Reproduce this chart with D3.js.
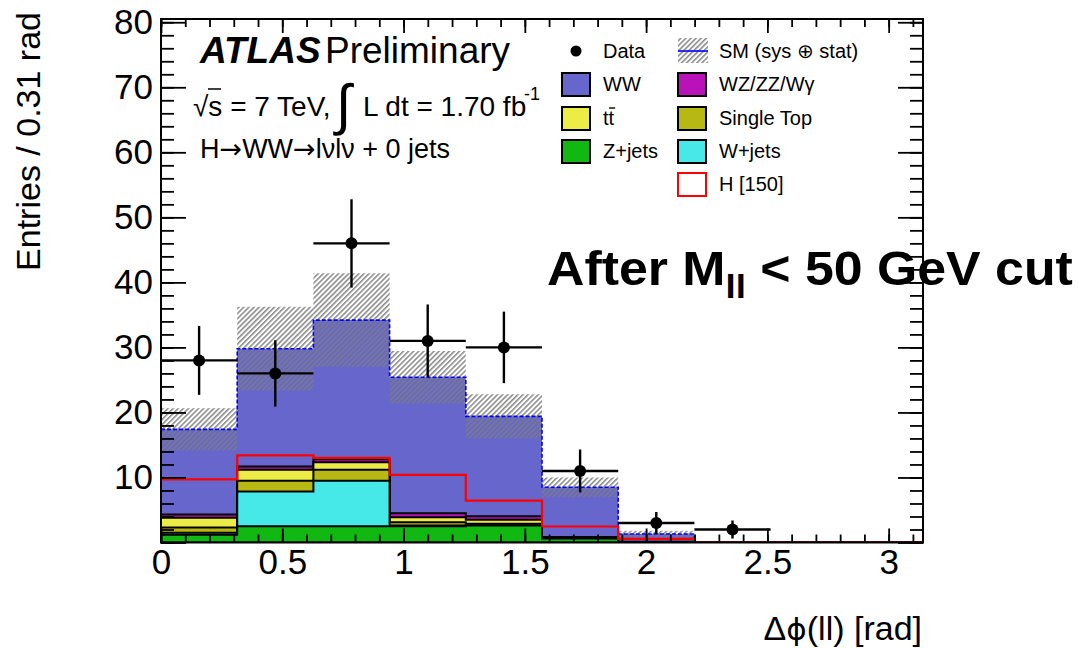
<!DOCTYPE html>
<html>
<head>
<meta charset="utf-8">
<script src="https://cdn.jsdelivr.net/npm/d3@7"></script>
<style>
  body { margin: 0; background: #fff; }
  svg { display: block; }
  text { font-family: "Liberation Sans", Arial, Helvetica, sans-serif; fill: #000; }
</style>
</head>
<body>
<svg id="chart" width="1078" height="648"></svg>
<script>
// ---- histogram contents: 10 bins of width pi/10 in delta-phi(ll) ----
const nBins = 10;
const binWidth = Math.PI / 10;
const dataCounts = [28, 26, 46, 31, 30, 11, 3, 2, 0, 0];
const dataErrors = [5.3, 5.1, 6.8, 5.6, 5.5, 3.3, 1.7, 1.4, 0, 0];
const zJets     = [1.2, 2.5, 2.5, 2.5, 2.6, 0.6, 0.0, 0, 0, 0];
const wJets     = [0.3, 5.35, 7.0, 0.1, 0.0, 0.05, 0.0, 0, 0, 0];
const singleTop = [0.8, 1.65, 1.7, 0.5, 0.3, 0.05, 0.02, 0, 0, 0];
const ttbar     = [1.5, 1.7, 1.15, 0.8, 0.6, 0.05, 0.03, 0, 0, 0];
const diboson   = [0.5, 0.5, 0.45, 0.6, 0.55, 0.1, 0.05, 0, 0, 0];
const wwValues  = [13.1, 18.1, 21.4, 20.9, 15.35, 7.65, 1.2, 0, 0, 0];
const smError   = [3.25, 6.45, 7.2, 4.05, 3.4, 1.5, 0.5, 0, 0, 0];
const higgs150  = [9.7, 13.4, 13.0, 10.4, 6.45, 2.46, 0.57, 0, 0, 0];

const xTickValues = [0, 0.5, 1, 1.5, 2, 2.5, 3];
const xTickLabels = ["0", "0.5", "1", "1.5", "2", "2.5", "3"];
const yTickValues = [10, 20, 30, 40, 50, 60, 70, 80];
const yTickLabels = ["10", "20", "30", "40", "50", "60", "70", "80"];

const layerKeys   = ["z", "wj", "st", "tt", "vv", "ww"];
const layerColors = { z: "#12b812", wj: "#46e8e8", st: "#b8b814", tt: "#ecec46", vv: "#b812b8", ww: "#6666cc" };

// ---- geometry ----
const svg = d3.select("#chart");
const frame = { left: 161, right: 923, top: 19, bottom: 542.5 };
const x = d3.scaleLinear().domain([0, Math.PI]).range([frame.left, frame.right]);
const y = d3.scaleLinear().domain([0, 80.5]).range([frame.bottom, frame.top]);

const edges = d3.range(nBins + 1).map(i => i * binWidth);
const rows = d3.range(nBins).map(i => ({
  z: zJets[i], wj: wJets[i], st: singleTop[i], tt: ttbar[i], vv: diboson[i], ww: wwValues[i]
}));
const stacked = d3.stack().keys(layerKeys)(rows);
const smTotal = stacked[stacked.length - 1].map(d => d[1]);

// step contour of a histogram, closed down to zero
const stepLine = d3.line().x(d => x(d[0])).y(d => y(d[1]));
function stepPoints(vals) {
  const pts = [];
  vals.forEach((v, i) => { pts.push([edges[i], v], [edges[i + 1], v]); });
  return pts;
}
function closedStep(vals) {
  return stepLine([[0, 0], ...stepPoints(vals), [edges[nBins], 0]]) + "Z";
}

// ---- hatch pattern for the SM uncertainty band ----
const defs = svg.append("defs");
const pat = defs.append("pattern").attr("id", "hatch")
  .attr("patternUnits", "userSpaceOnUse").attr("width", 3.6).attr("height", 3.6)
  .attr("patternTransform", "rotate(45)");
pat.append("line").attr("x1", 0.8).attr("y1", -1).attr("x2", 0.8).attr("y2", 5)
  .attr("stroke", "#7d7d7d").attr("stroke-width", 1.4);
defs.append("clipPath").attr("id", "plotClip").append("rect")
  .attr("x", frame.left).attr("y", frame.top)
  .attr("width", frame.right - frame.left).attr("height", frame.bottom - frame.top);

const plot = svg.append("g").attr("clip-path", "url(#plotClip)");

// stacked backgrounds, top cumulative first, each filled from zero
for (let k = stacked.length - 1; k >= 0; k--) {
  const key = layerKeys[k];
  const cum = stacked[k].map(d => d[1]);
  plot.append("path")
    .attr("d", closedStep(cum))
    .attr("fill", layerColors[key])
    .attr("stroke", key === "ww" ? "none" : "#000")
    .attr("stroke-width", key === "ww" ? 0 : 2)
    .attr("stroke-linejoin", "miter");
}

// SM (sys + stat) band
plot.append("g").selectAll("rect")
  .data(d3.range(nBins).filter(i => smError[i] > 0))
  .join("rect")
  .attr("x", i => x(edges[i]))
  .attr("width", i => x(edges[i + 1]) - x(edges[i]))
  .attr("y", i => y(smTotal[i] + smError[i]))
  .attr("height", i => y(smTotal[i] - smError[i]) - y(smTotal[i] + smError[i]))
  .attr("fill", "url(#hatch)");

// SM total line
plot.append("path")
  .attr("d", stepLine(stepPoints(smTotal)))
  .attr("fill", "none").attr("stroke", "#0000ff")
  .attr("stroke-width", 1.6).attr("stroke-dasharray", "4,2");

// Higgs signal overlay
plot.append("path")
  .attr("d", stepLine(stepPoints(higgs150)))
  .attr("fill", "none").attr("stroke", "#ff0000").attr("stroke-width", 2.2);

// data with error bars
const dataBins = d3.range(nBins).filter(i => dataCounts[i] > 0);
const dg = plot.append("g").attr("stroke", "#000").attr("stroke-width", 2.4);
dg.selectAll(".hbar").data(dataBins).join("line")
  .attr("x1", i => x(edges[i])).attr("x2", i => x(edges[i + 1]))
  .attr("y1", i => y(dataCounts[i])).attr("y2", i => y(dataCounts[i]));
dg.selectAll(".vbar").data(dataBins).join("line")
  .attr("x1", i => x(edges[i] + binWidth / 2)).attr("x2", i => x(edges[i] + binWidth / 2))
  .attr("y1", i => y(dataCounts[i] + dataErrors[i])).attr("y2", i => y(Math.max(0, dataCounts[i] - dataErrors[i])));
plot.append("g").selectAll("circle").data(dataBins).join("circle")
  .attr("cx", i => x(edges[i] + binWidth / 2)).attr("cy", i => y(dataCounts[i]))
  .attr("r", 6).attr("fill", "#000");

// ---- axes: ticks pointing into the frame on all four sides ----
const xMinor = d3.range(0, 3.15, 0.1);
const yMinor = d3.range(0, 81, 2);
function styleAxis(g, fontSize) {
  g.select(".domain").remove();
  g.selectAll(".tick line").attr("stroke", "#000").attr("stroke-width", 1.8);
  g.selectAll("text").attr("font-size", fontSize)
    .attr("font-family", '"Liberation Sans", Arial, Helvetica, sans-serif').attr("fill", "#000");
}
const axes = svg.append("g");
axes.append("g").attr("transform", `translate(0,${frame.bottom})`)
  .call(d3.axisBottom(x).tickValues(xMinor).tickSize(-8).tickFormat(""))
  .call(g => styleAxis(g, 0));
axes.append("g").attr("transform", `translate(0,${frame.bottom})`)
  .call(d3.axisBottom(x).tickValues(xTickValues).tickSize(-14).tickPadding(7)
    .tickFormat((d, i) => xTickLabels[i]))
  .call(g => styleAxis(g, 35));
axes.append("g").attr("transform", `translate(0,${frame.top})`)
  .call(d3.axisTop(x).tickValues(xMinor).tickSize(-8).tickFormat(""))
  .call(g => styleAxis(g, 0));
axes.append("g").attr("transform", `translate(0,${frame.top})`)
  .call(d3.axisTop(x).tickValues(xTickValues).tickSize(-14).tickFormat(""))
  .call(g => styleAxis(g, 0));
axes.append("g").attr("transform", `translate(${frame.left},0)`)
  .call(d3.axisLeft(y).tickValues(yMinor).tickSize(-13).tickFormat(""))
  .call(g => styleAxis(g, 0));
axes.append("g").attr("transform", `translate(${frame.left},0)`)
  .call(d3.axisLeft(y).tickValues([0, ...yTickValues]).tickSize(-25).tickPadding(8)
    .tickFormat(d => { const i = yTickValues.indexOf(d); return i < 0 ? "" : yTickLabels[i]; }))
  .call(g => styleAxis(g, 35));
axes.append("g").attr("transform", `translate(${frame.right},0)`)
  .call(d3.axisRight(y).tickValues(yMinor).tickSize(-13).tickFormat(""))
  .call(g => styleAxis(g, 0));
axes.append("g").attr("transform", `translate(${frame.right},0)`)
  .call(d3.axisRight(y).tickValues([0, ...yTickValues]).tickSize(-25).tickFormat(""))
  .call(g => styleAxis(g, 0));

svg.append("rect")
  .attr("x", frame.left).attr("y", frame.top)
  .attr("width", frame.right - frame.left).attr("height", frame.bottom - frame.top)
  .attr("fill", "none").attr("stroke", "#000").attr("stroke-width", 2);

// axis titles
svg.append("text")
  .attr("transform", "translate(40,12) rotate(-90)")
  .attr("text-anchor", "end").attr("font-size", 34)
  .text("Entries / 0.31 rad");
const xTitle = svg.append("text")
  .attr("x", 922).attr("y", 640).attr("text-anchor", "end").attr("font-size", 34);
xTitle.append("tspan").text("Δ");
xTitle.append("tspan").attr("font-family", '"DejaVu Sans", sans-serif').attr("font-size", 31).text("ϕ");
xTitle.append("tspan").text("(ll) [rad]");

// ---- ATLAS label block ----
const atlas = svg.append("text").attr("x", 200).attr("y", 63).attr("font-size", 37);
atlas.append("tspan").attr("font-weight", "bold").attr("font-style", "italic").text("ATLAS");
svg.append("text").attr("x", 325).attr("y", 63).attr("font-size", 37).text("Preliminary");

svg.append("text").attr("x", 193).attr("y", 116).attr("font-size", 28).text("√s = 7 TeV,");
svg.append("line").attr("x1", 208).attr("x2", 221).attr("y1", 89).attr("y2", 89)
  .attr("stroke", "#000").attr("stroke-width", 1.5);
svg.append("text").attr("x", 336).attr("y", 124).attr("font-size", 56).attr("font-family", "DejaVu Sans").text("∫");
svg.append("text").attr("x", 363).attr("y", 116).attr("font-size", 28).text("L dt = 1.70 fb");
svg.append("text").attr("x", 524).attr("y", 100).attr("font-size", 18).text("-1");

const chan = svg.append("text").attr("x", 200).attr("y", 158).attr("font-size", 27);
const arrowFont = '"DejaVu Sans", sans-serif';
chan.append("tspan").text("H");
chan.append("tspan").attr("font-family", arrowFont).text("→");
chan.append("tspan").text("WW");
chan.append("tspan").attr("font-family", arrowFont).text("→");
chan.append("tspan").text("lνlν + 0 jets");

// ---- legend ----
const legendRows = [51, 84, 118, 151, 184];
const legendItems = [
  { label: "Data", col: 0, row: 0, kind: "marker" },
  { label: "SM (sys ⊕ stat)", col: 1, row: 0, kind: "band" },
  { label: "WW", col: 0, row: 1, kind: "box", color: layerColors.ww },
  { label: "WZ/ZZ/Wγ", col: 1, row: 1, kind: "box", color: layerColors.vv },
  { label: "tt", col: 0, row: 2, kind: "box", color: layerColors.tt, bar: true },
  { label: "Single Top", col: 1, row: 2, kind: "box", color: layerColors.st },
  { label: "Z+jets", col: 0, row: 3, kind: "box", color: layerColors.z },
  { label: "W+jets", col: 1, row: 3, kind: "box", color: layerColors.wj },
  { label: "H [150]", col: 1, row: 4, kind: "line" }
];
const colBox = [562, 678];
const colText = [603, 719];
const lg = svg.append("g");
legendItems.forEach(it => {
  const cy = legendRows[it.row];
  const bx = colBox[it.col];
  if (it.kind === "marker") {
    lg.append("circle").attr("cx", bx + 14).attr("cy", cy).attr("r", 5.5).attr("fill", "#000");
  } else if (it.kind === "band") {
    lg.append("rect").attr("x", bx).attr("y", cy - 13).attr("width", 30).attr("height", 25)
      .attr("fill", "url(#hatch)");
    lg.append("line").attr("x1", bx).attr("x2", bx + 30).attr("y1", cy).attr("y2", cy)
      .attr("stroke", "#0000ff").attr("stroke-width", 1.6);
  } else if (it.kind === "box") {
    lg.append("rect").attr("x", bx).attr("y", cy - 11).attr("width", 28).attr("height", 23)
      .attr("fill", it.color).attr("stroke", "#000").attr("stroke-width", 2);
  } else {
    lg.append("rect").attr("x", bx).attr("y", cy - 11).attr("width", 28).attr("height", 23)
      .attr("fill", "#fff").attr("stroke", "#ff0000").attr("stroke-width", 2);
  }
  const t = lg.append("text").attr("x", colText[it.col]).attr("y", cy + 7)
    .attr("font-size", 20).text(it.label);
  if (it.bar) {
    const node = t.node();
    const w1 = node.getSubStringLength(0, 1);
    const w2 = node.getSubStringLength(1, 1);
    lg.append("line")
      .attr("x1", colText[it.col] + w1 + 0.5).attr("x2", colText[it.col] + w1 + w2 + 1)
      .attr("y1", cy - 10).attr("y2", cy - 10)
      .attr("stroke", "#000").attr("stroke-width", 1.4);
  }
});

// ---- cut annotation ----
const note = svg.append("text")
  .attr("font-family", '"DejaVu Sans", Verdana, sans-serif')
  .attr("font-weight", "bold").attr("font-size", 48);
note.append("tspan").text("After M");
note.append("tspan").attr("font-size", 34).attr("dy", 13).text("ll");
note.append("tspan").attr("dy", -13).text(" < 50 GeV cut");
const nb = note.node().getBBox();
const sx = 526 / nb.width;
note.attr("transform", `translate(${547 - nb.x * sx},285) scale(${sx},1)`);
</script>
</body>
</html>
